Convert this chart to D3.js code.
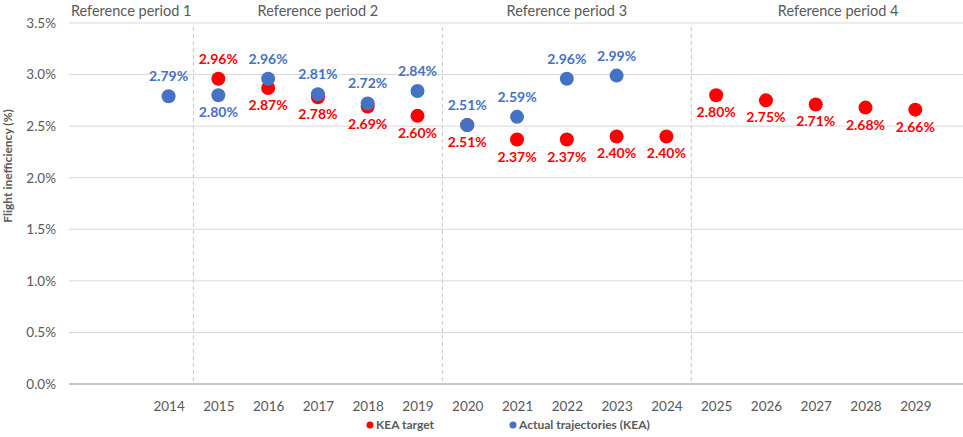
<!DOCTYPE html>
<html><head><meta charset="utf-8">
<script src="https://cdn.jsdelivr.net/npm/d3@7"></script>
<style>body{margin:0;background:#fff}svg{display:block;font-family:Lato,"Open Sans",sans-serif}</style>
</head><body>
<svg id="c" width="963" height="437"></svg>
<script>
const years = [2014,2015,2016,2017,2018,2019,2020,2021,2022,2023,2024,2025,2026,2027,2028,2029];
const actualYears = [2014,2015,2016,2017,2018,2019,2020,2021,2022,2023];
const actualValues = [2.79,2.80,2.96,2.81,2.72,2.84,2.51,2.59,2.96,2.99];
const targetYears = [2015,2016,2017,2018,2019,2020,2021,2022,2023,2024,2025,2026,2027,2028,2029];
const targetValues = [2.96,2.87,2.78,2.69,2.60,2.51,2.37,2.37,2.40,2.40,2.80,2.75,2.71,2.68,2.66];
const yTicks = [0,0.5,1.0,1.5,2.0,2.5,3.0,3.5];
const periodNames = ["Reference period 1","Reference period 2","Reference period 3","Reference period 4"];
const periodStarts = [2012,2014.5,2019.5,2024.5];
const periodEnds = [2014.5,2019.5,2024.5,2030.4];
// label placement: which labels go above/below
const actualBelow = [2015];
const targetAbove = [2015];

const svg = d3.select("#c");
const x = d3.scaleLinear().domain([2012,2030.4]).range([69,985]);
const y = d3.scaleLinear().domain([0,3.5]).range([384,23]);
const grey = "#595959";
const blue = "#4472C4", red = "#FF0000";

// gridlines
svg.append("g").selectAll("line").data(yTicks.filter(d=>d>0)).join("line")
  .attr("x1",x(2012)).attr("x2",x(2030.4)).attr("y1",d=>y(d)).attr("y2",d=>y(d))
  .attr("stroke","#d9d9d9").attr("stroke-width",1);
// period separators
svg.append("g").selectAll("line").data(periodStarts.slice(1)).join("line")
  .attr("x1",d=>x(d)).attr("x2",d=>x(d)).attr("y1",y(3.5)+4).attr("y2",y(0))
  .attr("stroke","#c8c8c8").attr("stroke-width",1).attr("stroke-dasharray","4,3");
// x axis baseline
svg.append("line").attr("x1",x(2012)).attr("x2",x(2030.4)).attr("y1",y(0)).attr("y2",y(0))
  .attr("stroke","#8c8c8c").attr("stroke-width",1.2);

// y axis
const yAxis = d3.axisLeft(y).tickValues(yTicks).tickFormat(d=>d.toFixed(1)+"%").tickSize(0).tickPadding(13);
const ya = svg.append("g").attr("transform",`translate(${x(2012)},0)`).call(yAxis);
ya.select(".domain").remove();
ya.selectAll("text").attr("fill",grey).attr("font-size",13.5).attr("font-family","Lato,sans-serif");

// x axis
const xAxis = d3.axisBottom(x).tickValues(years).tickFormat(d=>String(d)).tickSize(0).tickPadding(17);
const xa = svg.append("g").attr("transform",`translate(0,${y(0)})`).call(xAxis);
xa.select(".domain").remove();
xa.selectAll("text").attr("fill",grey).attr("font-size",13.5).attr("font-family","Lato,sans-serif");

// y title
svg.append("text").attr("transform",`translate(12,166) rotate(-90)`).attr("text-anchor","middle")
  .attr("font-size",12).attr("font-weight","bold").attr("fill",grey).text("Flight inefficiency (%)");

// period labels
svg.append("g").selectAll("text").data(periodNames).join("text")
  .attr("x",(d,i)=>x((periodStarts[i]+periodEnds[i])/2)).attr("y",16)
  .attr("text-anchor","middle").attr("font-size",14.5).attr("fill",grey).text(d=>d);

const tgt = targetYears.map((yr,i)=>({yr,v:targetValues[i]}));
const act = actualYears.map((yr,i)=>({yr,v:actualValues[i]}));

svg.append("g").selectAll("circle").data(tgt).join("circle")
  .attr("cx",d=>x(d.yr)).attr("cy",d=>y(d.v)).attr("r",7).attr("fill",red);
svg.append("g").selectAll("circle").data(act).join("circle")
  .attr("cx",d=>x(d.yr)).attr("cy",d=>y(d.v)).attr("r",7).attr("fill",blue);

svg.append("g").selectAll("text").data(tgt).join("text")
  .attr("x",d=>x(d.yr)).attr("y",d=>y(d.v)+(targetAbove.includes(d.yr)?-15:22))
  .attr("text-anchor","middle").attr("font-size",14).attr("font-weight","bold").attr("fill",red)
  .text(d=>d.v.toFixed(2)+"%");
svg.append("g").selectAll("text").data(act).join("text")
  .attr("x",d=>x(d.yr)).attr("y",d=>y(d.v)+(actualBelow.includes(d.yr)?22:-15))
  .attr("text-anchor","middle").attr("font-size",14).attr("font-weight","bold").attr("fill",blue)
  .text(d=>d.v.toFixed(2)+"%");

// legend
const legend = [{name:"KEA target",color:red,x:370},{name:"Actual trajectories (KEA)",color:blue,x:513}];
const lg = svg.append("g").selectAll("g").data(legend).join("g").attr("transform",d=>`translate(${d.x},425)`);
lg.append("circle").attr("r",3.5).attr("fill",d=>d.color);
lg.append("text").attr("x",6).attr("y",4).attr("font-size",12).attr("font-weight","bold").attr("fill",grey).text(d=>d.name);
</script>
</body></html>
